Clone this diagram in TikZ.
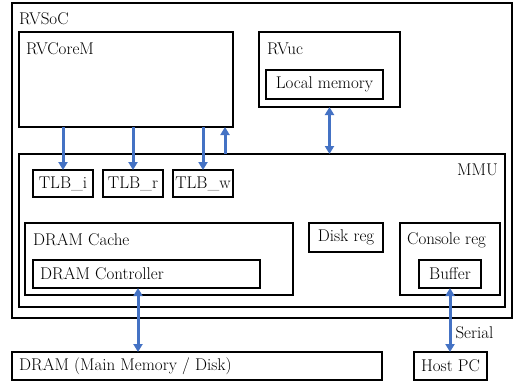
\documentclass[tikz,border=0pt]{standalone}
\usepackage{tikz}
\usetikzlibrary{positioning}
\usetikzlibrary{arrows.meta}
\definecolor{linkblue}{RGB}{68,114,196}

\begin{document}
\begin{tikzpicture}[
            x = 1pt, y = -1pt, % pixel units, y grows downwards
            > = {Triangle[length=8pt,width=9pt]}, % arrow head style
            font = \fontsize{17}{20}\selectfont
        ]

        \tikzstyle{box}=[
            draw,
            line width = 1.5pt,
            inner sep = 0pt,
            outer sep = 0pt,
            anchor = north west
        ]
        \tikzstyle{lbl}=[inner sep = 0pt, anchor = west]
        \tikzstyle{tlb}=[minimum width = 60pt, minimum height = 27pt]
        \tikzstyle{link}=[draw = linkblue, line width = 3pt]

        \useasboundingbox (0,0) rectangle (516,383);

	% SoC frame
        \node[box, line width = 2pt, minimum width = 500pt, minimum height = 315pt] (soc) at (12,3) {};
        \node[lbl] (soclbl) at ([shift={(7,16)}]soc.north west) {RVSoC};

	% cores
        \node[box, minimum width = 214pt, minimum height = 95pt] (core) at (19,32) {};
        \node[lbl] (corelbl) at ([shift={(7,17)}]core.north west) {RVCoreM};
        \node[box, minimum width = 141pt, minimum height = 75pt] (uc) at (259,32) {};
        \node[lbl] (uclbl) at ([shift={(8,17)}]uc.north west) {RVuc};
        \node[box, minimum width = 117pt, minimum height = 29pt] (lmem) at (266,70) {Local memory};

	% MMU
        \node[box, minimum width = 486pt, minimum height = 153pt] (mmu) at (19,154) {};
        \node[lbl, anchor = east] (mmulbl) at ([shift={(-7,16)}]mmu.north east) {MMU};

        \node[box, tlb] (tlbi) at (33,170) {TLB\_i};
        \node[box, tlb] (tlbr) [right = 10pt of tlbi] {TLB\_r};
        \node[box, tlb] (tlbw) [right = 10pt of tlbr] {TLB\_w};

        \node[box, minimum width = 268pt, minimum height = 72pt] (cache) at (25,223) {};
        \node[lbl] (cachelbl) at ([shift={(8,17)}]cache.north west) {DRAM Cache};
        \node[box, minimum width = 227pt, minimum height = 28pt] (ctrl) at (33,260) {};
        \node[lbl] (ctrllbl) at ([xshift=7pt]ctrl.west) {DRAM Controller};

        \node[box, minimum width = 74pt, minimum height = 29pt] (disk) at (309,223) {Disk reg};

        \node[box, minimum width = 100pt, minimum height = 72pt] (cons) at (400,223) {};
        \node[lbl] (conslbl) at ([shift={(7,17)}]cons.north west) {Console reg};
        \node[box, minimum width = 62pt, minimum height = 28pt] (buf) at (419,260) {Buffer};

	% outside the SoC
        \node[box, minimum width = 370pt, minimum height = 28pt] (dram) at (12,352) {};
        \node[lbl] (dramlbl) at ([xshift=7pt]dram.west) {DRAM (Main Memory / Disk)};
        \node[box, minimum width = 73pt, minimum height = 28pt] (host) at (414,352) {Host PC};

	% links
        \draw[link, ->] (core.south -| tlbi.north) -- (tlbi.north);
        \draw[link, ->] (core.south -| tlbr.north) -- (tlbr.north);
        \draw[link, ->] (core.south -| tlbw.north) -- (tlbw.north);
        \coordinate (back) at (225,154);
        \draw[link, ->] (back) -- (back |- core.south);

        \draw[link, <->] (uc.south) -- (uc.south |- mmu.north);

        \coordinate (memport) at (138,288);
        \draw[link, <->] (memport) -- (memport |- dram.north);

        \draw[link, <->] (buf.south) -- (buf.south |- host.north)
            node[lbl, pos = 0.7, xshift = 4pt] (seriallbl) {Serial};

\end{tikzpicture}
\end{document}
